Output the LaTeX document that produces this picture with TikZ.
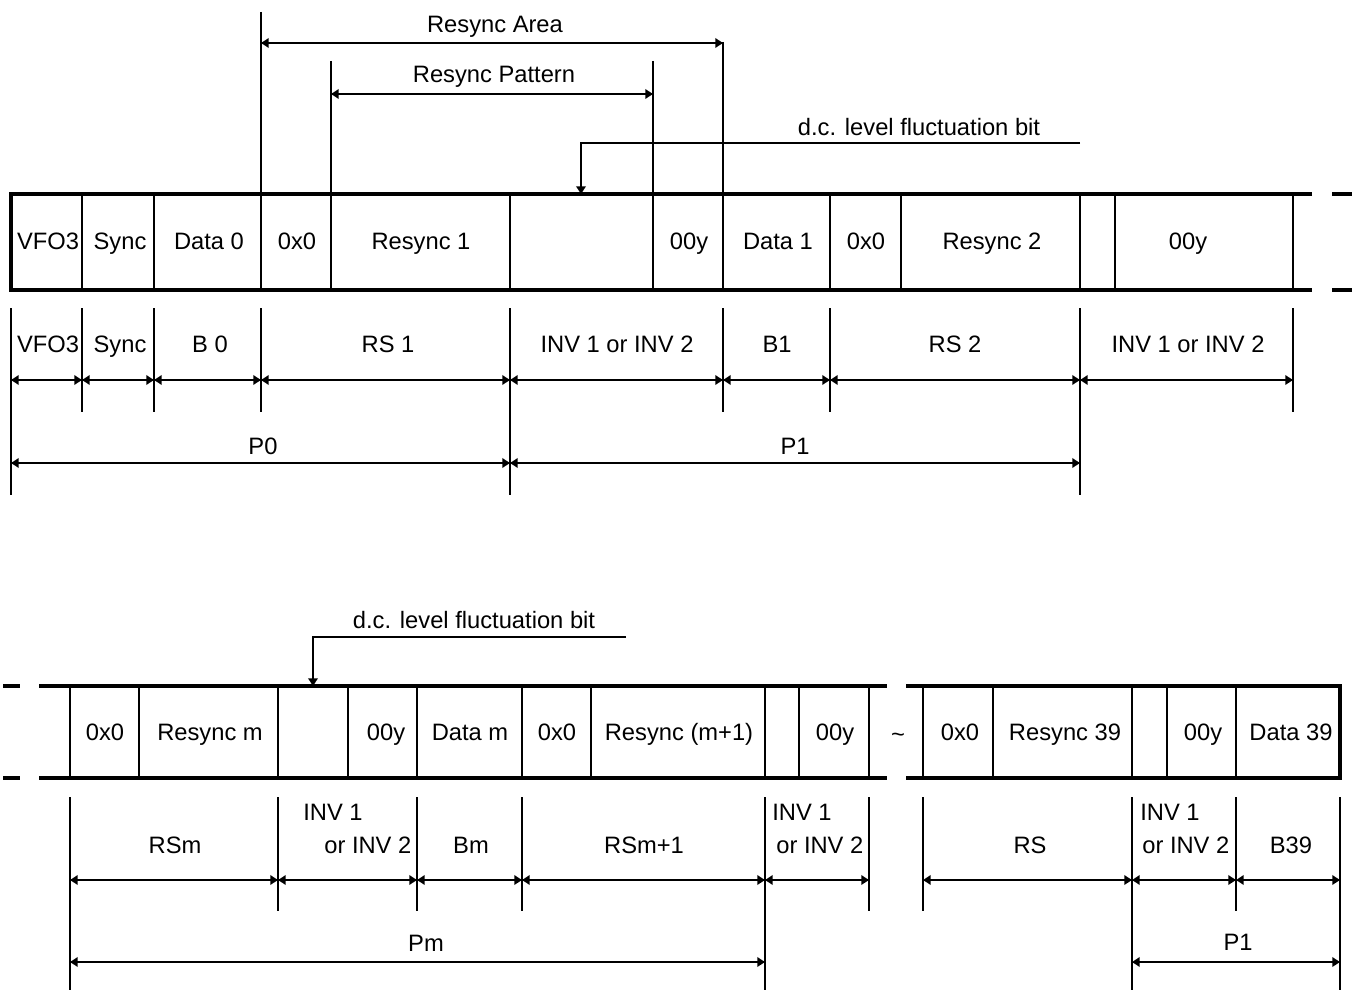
\documentclass[tikz,border=0pt]{standalone}
\usepackage{fontspec}
\setmainfont{Liberation Sans}
\usetikzlibrary{arrows.meta}
\tikzset{
  frameline/.style={black, line width=2.1pt},
  cellline/.style={black, line width=1.1pt},
  dimline/.style={black, line width=1.1pt, {Triangle[length=4.4pt,width=5.4pt]}-{Triangle[length=4.4pt,width=5.4pt]}},
  pointer/.style={black, line width=1.1pt, -{Triangle[length=4.4pt,width=5.4pt]}},
  lbl/.style={anchor=base, inner sep=0pt, font=\fontsize{13.5}{16}\selectfont},
  lblw/.style={lbl, anchor=base west}
}

\begin{document}
\begin{tikzpicture}[x=0.02cm, y=-0.02cm]
  \useasboundingbox (0,0) rectangle (1356,990);
  % upper frame
  \draw[frameline] (1312,194) -- (11,194) -- (11,290) -- (1312,290);
  \draw[frameline] (1332,194) -- (1352,194);
  \draw[frameline] (1332,290) -- (1352,290);
  \foreach \x in {82,154,261,331,510,653,723,830,901,1080,1115,1293}
    \draw[cellline] (\x,194) -- (\x,290);
  \draw[cellline] (261,12) -- (261,194);
  \draw[cellline] (723,42) -- (723,194);
  \draw[cellline] (331,61) -- (331,194);
  \draw[cellline] (653,61) -- (653,194);
  \draw[dimline] (261,43) -- (723,43);
  \draw[dimline] (331,94) -- (653,94);
  \node[lbl] (area) at (495,33) {Resync Area};
  \node[lbl] (pattern) at (494,83) {Resync Pattern};
  \coordinate (dcA) at (1080,143);
  \coordinate (dcB) at (581,194);
  \draw[pointer] (dcA) -- (dcB |- dcA) -- (dcB);
  \node[lbl] (dcbitA) at (919,135) {d.c. level fluctuation bit};
  \node[lbl] (vfoA) at (48,249) {VFO3};
  \node[lbl] (syncA) at (120,249) {Sync};
  \node[lbl] (data0) at (209,249) {Data 0};
  \node[lbl] (oxoA) at (297,249) {0x0};
  \node[lbl] (resync1) at (421,249) {Resync 1};
  \node[lbl] (ooyA) at (689,249) {00y};
  \node[lbl] (data1) at (778,249) {Data 1};
  \node[lbl] (oxoB) at (866,249) {0x0};
  \node[lbl] (resync2) at (992,249) {Resync 2};
  \node[lbl] (ooyB) at (1188,249) {00y};
  % upper dimensions
  \foreach \x in {82,154,261,723,830,1293}
    \draw[cellline] (\x,308) -- (\x,412);
  \foreach \x in {11,510,1080}
    \draw[cellline] (\x,308) -- (\x,495);
  \foreach \a/\b in {11/82,82/154,154/261,261/510,510/723,723/830,830/1080,1080/1293}
    \draw[dimline] (\a,380) -- (\b,380);
  \draw[dimline] (11,463) -- (510,463);
  \draw[dimline] (510,463) -- (1080,463);
  \node[lbl] (vfoB) at (48,352) {VFO3};
  \node[lbl] (syncB) at (120,352) {Sync};
  \node[lbl] (b0) at (210,352) {B 0};
  \node[lbl] (rs1) at (388,352) {RS 1};
  \node[lbl] (invA) at (617,352) {INV 1 or INV 2};
  \node[lbl] (b1) at (777,352) {B1};
  \node[lbl] (rs2) at (955,352) {RS 2};
  \node[lbl] (invB) at (1188,352) {INV 1 or INV 2};
  \node[lbl] (p0) at (263,454) {P0};
  \node[lbl] (p1A) at (795,454) {P1};
  % lower frame
  \draw[frameline] (3,686) -- (20,686);
  \draw[frameline] (3,778) -- (20,778);
  \draw[frameline] (39,686) -- (887,686);
  \draw[frameline] (39,778) -- (887,778);
  \draw[frameline] (906,686) -- (1340,686) -- (1340,778) -- (906,778);
  \foreach \x in {70,139,278,348,417,522,591,765,799,869,923,993,1132,1167,1236}
    \draw[cellline] (\x,686) -- (\x,778);
  \coordinate (dcC) at (626,637);
  \coordinate (dcD) at (313,686);
  \draw[pointer] (dcC) -- (dcD |- dcC) -- (dcD);
  \node[lbl] (dcbitB) at (474,628) {d.c. level fluctuation bit};
  \node[lbl] (oxoC) at (105,740) {0x0};
  \node[lbl] (resyncm) at (210,740) {Resync m};
  \node[lbl] (ooyC) at (386,740) {00y};
  \node[lbl] (datam) at (470,740) {Data m};
  \node[lbl] (oxoD) at (557,740) {0x0};
  \node[lbl] (resyncm1) at (679,740) {Resync (m+1)};
  \node[lbl] (ooyD) at (835,740) {00y};
  \node[lbl] (tilde) at (898,742) {\textasciitilde};
  \node[lbl] (oxoE) at (960,740) {0x0};
  \node[lbl] (resync39) at (1065,740) {Resync 39};
  \node[lbl] (ooyE) at (1203,740) {00y};
  \node[lbl] (data39) at (1291,740) {Data 39};
  % lower dimensions
  \foreach \x in {278,417,522,869,923,1236}
    \draw[cellline] (\x,797) -- (\x,911);
  \foreach \x in {70,765,1132,1340}
    \draw[cellline] (\x,797) -- (\x,990);
  \foreach \a/\b in {70/278,278/417,417/522,522/765,765/869,923/1132,1132/1236,1236/1340}
    \draw[dimline] (\a,880) -- (\b,880);
  \draw[dimline] (70,962) -- (765,962);
  \draw[dimline] (1132,962) -- (1340,962);
  \node[lbl] (rsm) at (175,853) {RSm};
  \node[lblw] (invCa) at (303,820) {INV 1};
  \node[lblw] (invCb) at (324,853) {or INV 2};
  \node[lbl] (bm) at (471,853) {Bm};
  \node[lbl] (rsm1) at (644,853) {RSm+1};
  \node[lblw] (invDa) at (772,820) {INV 1};
  \node[lblw] (invDb) at (776,853) {or INV 2};
  \node[lbl] (rs) at (1030,853) {RS};
  \node[lblw] (invEa) at (1140,820) {INV 1};
  \node[lblw] (invEb) at (1142,853) {or INV 2};
  \node[lbl] (b39) at (1291,853) {B39};
  \node[lbl] (pm) at (426,951) {Pm};
  \node[lbl] (p1B) at (1238,950) {P1};
\end{tikzpicture}
\end{document}
